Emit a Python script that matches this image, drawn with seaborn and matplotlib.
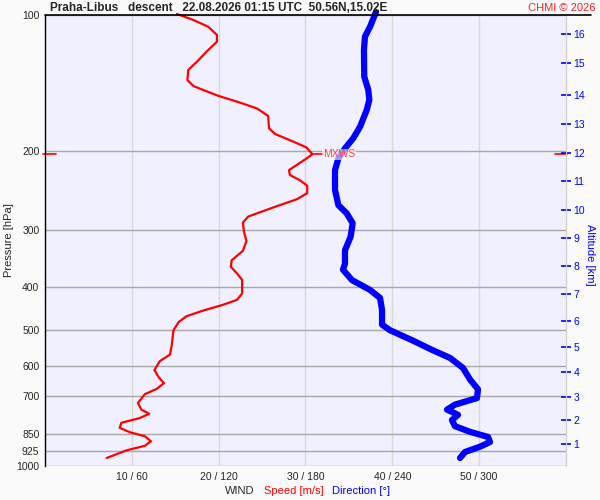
import numpy as np
import pandas as pd
import matplotlib
matplotlib.use('Agg')
import matplotlib.pyplot as plt
import seaborn as sns
from matplotlib.ticker import NullLocator, FixedLocator
from matplotlib.lines import Line2D

# wind speed profile (m/s)
speed_p = [99.5, 102.6, 106.2, 110.7, 114.6, 120.6, 126.9, 132.4, 139.4, 143.7,
           146.6, 151.2, 155.6, 161.1, 167.4, 178.3, 183.6, 190.9, 196.6, 203.6,
           208.8, 215.0, 220.8, 226.3, 232.8, 239.1, 248.3, 256.2, 265.4, 273.6,
           279.9, 288.4, 301.6, 317.1, 333.2, 349.9, 361.6, 373.9, 386.7, 414.5,
           428.3, 439.7, 452.3, 465.5, 479.4, 499.8, 539, 566, 586, 613,
           636, 655, 674, 693, 725, 750, 766, 783, 802, 823,
           842, 859, 881, 902, 923, 960]
speed = [15.2, 17.1, 18.8, 19.8, 19.8, 18.6, 17.5, 16.5, 16.4, 17.1,
         18.2, 20.0, 22.1, 24.4, 25.7, 25.8, 26.5, 28.6, 30.1, 30.8,
         30.0, 29.0, 28.1, 28.2, 29.4, 30.2, 30.2, 29.0, 26.7, 24.8,
         23.4, 22.8, 22.9, 23.2, 22.8, 21.5, 21.4, 22.1, 22.7, 22.7,
         22.1, 20.4, 18.2, 16.3, 15.4, 14.8, 14.6, 14.4, 13.2, 12.6,
         13.1, 13.7, 12.9, 11.5, 10.7, 11.1, 12.0, 10.9, 8.8, 8.6,
         9.8, 11.5, 12.2, 11.5, 9.4, 7.1]

# wind direction profile (deg)
dir_p = [98.5, 106.2, 111.7, 119.6, 137, 146.6, 154.3, 162.5, 176.9, 187.6,
         197.6, 208, 220.8, 244.2, 263.9, 275.3, 289.6, 310.2, 332.3, 355.8,
         367, 387, 407, 424, 451, 486, 500, 526, 554, 576,
         606, 643, 676, 707, 731, 750, 770, 791, 816, 840,
         862, 885, 906, 931, 960]
direction = [228.7, 224.6, 221.1, 220.4, 220.6, 223.4, 224.1, 222.3, 217.7, 213.0,
             207.3, 202.7, 200.4, 200.4, 202.7, 208.5, 212.6, 211.2, 207.3, 207.3,
             205.9, 212.1, 224.6, 231.5, 232.9, 232.9, 238.4, 253.6, 268.1, 279.9,
             288.8, 293.7, 299.2, 298.5, 283.3, 277.8, 285.4, 281.2, 283.3, 293.7,
             306.1, 307.5, 300.6, 290.2, 286.8]

p_ticks = [100, 200, 300, 400, 500, 600, 700, 850, 925, 1000]
x_ticks = [10, 20, 30, 40, 50]
x_labels = ['10 / 60', '20 / 120', '30 / 180', '40 / 240', '50 / 300']
alt_km = list(range(1, 17))
alt_p = [893.6, 791.2, 702.9, 618.5, 544.3, 476.4, 416.1, 360.4, 312.2, 270.7,
         233.4, 201.9, 174.4, 150.5, 127.8, 110.2]

df_speed = pd.DataFrame({'pressure': speed_p, 'speed': speed})
df_dir = pd.DataFrame({'pressure': dir_p, 'dir_scaled': np.array(direction) / 6.0})

sns.set_style('white')
plt.rcParams['font.family'] = ['Liberation Sans', 'DejaVu Sans']

fig = plt.figure(figsize=(6, 5), dpi=100, facecolor='#FAFAFA')
ax = fig.add_axes([0.075, 0.068, 0.8683, 0.902])
ax.set_facecolor('#F0F0FF')

sns.lineplot(data=df_speed, x='speed', y='pressure', sort=False, estimator=None,
             color='#FF0000', lw=1.6, ax=ax)
sns.lineplot(data=df_dir, x='dir_scaled', y='pressure', sort=False, estimator=None,
             color='#0000FF', lw=4.5, ax=ax)
for ln in ax.lines:
    ln.set_clip_on(False)
    ln.set_solid_joinstyle('round')
ax.lines[1].set_solid_capstyle('round')

ax.set_yscale('log')
ax.set_ylim(1000, 100)
ax.set_xlim(0, 60)
ax.yaxis.set_major_locator(FixedLocator(p_ticks))
ax.yaxis.set_minor_locator(NullLocator())
ax.set_yticklabels([str(p) for p in p_ticks], fontsize=7.5)
ax.set_xticks(x_ticks)
ax.set_xticklabels(x_labels, fontsize=7.5)
ax.tick_params(axis='both', length=0, pad=4)
ax.grid(axis='y', color='#A8A8A8', lw=1)
ax.grid(axis='x', color='#D8D8D8', lw=1)
ax.set_axisbelow(True)
ax.set_xlabel('')
ax.set_ylabel('Pressure [hPa]', fontsize=8, labelpad=2)

for side in ['bottom', 'top']:
    ax.spines[side].set_visible(False)
ax.spines['left'].set_color('black')
ax.spines['left'].set_linewidth(1)
ax.spines['right'].set_color('#D0D0D0')

# altitude axis
ax2 = ax.twinx()
ax2.set_yscale('log')
ax2.set_ylim(1000, 100)
ax2.yaxis.set_major_locator(FixedLocator(alt_p))
ax2.yaxis.set_minor_locator(NullLocator())
ax2.set_yticklabels([str(k) for k in alt_km], fontsize=7.5, color='#0000FF')
ax2.tick_params(axis='y', direction='inout', length=7, width=1.2, color='#0000FF', pad=2)
for side in ['left', 'top', 'bottom']:
    ax2.spines[side].set_visible(False)
ax2.spines['right'].set_color('#D0D0D0')
ax2.grid(False)
fig.text(590 / 600, 1 - 255 / 500, 'Altitude [km]', color='#0000FF', fontsize=8,
         rotation=270, va='center', ha='center')

# max wind marker
i_max = int(np.argmax(speed))
p_max = speed_p[i_max]
ax.plot([-0.2, 1.3], [p_max, p_max], color='#FF0000', lw=1.2, clip_on=False)
ax.plot([58.7, 60.1], [p_max, p_max], color='#FF0000', lw=1.2, clip_on=False)
ax.plot([speed[i_max], speed[i_max] + 1.2], [p_max, p_max], color='#FF0000', lw=1.2)
ax.text(speed[i_max] + 1.2, p_max, 'MXWS', color='#FF4040', fontsize=7.5,
        va='center', ha='left',
        bbox=dict(facecolor='white', edgecolor='none', alpha=0.6, pad=0.5))

# top line and titles
fig.add_artist(Line2D([45 / 600, 591 / 600], [1 - 15 / 500, 1 - 15 / 500],
                      color='black', lw=1.2))
fig.text(50 / 600, 1 - 8 / 500,
         'Praha-Libus   descent   22.08.2026 01:15 UTC  50.56N,15.02E',
         fontsize=8.5, fontweight='bold', va='center', ha='left')
fig.text(595 / 600, 1 - 8 / 500, 'CHMI \u00a9 2026', color='#FF2020',
         fontsize=8, va='center', ha='right')

fig.text(225 / 600, 1 - 491 / 500, 'WIND', fontsize=8, va='center', ha='left')
fig.text(264 / 600, 1 - 491 / 500, 'Speed [m/s]', fontsize=8, color='#FF0000',
         va='center', ha='left')
fig.text(332 / 600, 1 - 491 / 500, 'Direction [\u00b0]', fontsize=8, color='#0000FF',
         va='center', ha='left')

fig.savefig('out.png', dpi=100, facecolor=fig.get_facecolor())
